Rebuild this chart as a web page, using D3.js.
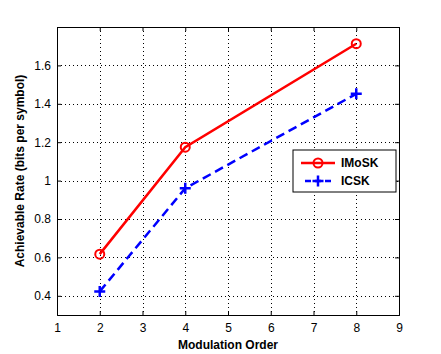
<!DOCTYPE html>
<html>
<head>
<meta charset="utf-8">
<script src="https://cdn.jsdelivr.net/npm/d3@7"></script>
<style>
body { margin: 0; background: #fff; }
text { font-family: "Liberation Sans", Arial, sans-serif; }
</style>
</head>
<body>
<div class="graph"></div>
<script>
// values
var orders = [2, 4, 8];
var imosk = [0.617, 1.174, 1.713];
var icsk = [0.423, 0.96, 1.452];
var x_ticks = [1, 2, 3, 4, 5, 6, 7, 8, 9];
var y_ticks = [0.4, 0.6, 0.8, 1, 1.2, 1.4, 1.6];

var width = 441, height = 354;
var margin = { top: 27, bottom: 39, left: 57, right: 42 };

var svg = d3.select('.graph').append('svg')
    .attr('width', width)
    .attr('height', height);

var xScale = d3.scaleLinear().domain([1, 9]).range([margin.left, width - margin.right]);
var yScale = d3.scaleLinear().domain([0.3, 1.8]).range([height - margin.bottom, margin.top]);

// grid
var grid = svg.append('g');
grid.selectAll('.gx').data(x_ticks.slice(1, -1)).enter().append('line')
    .attr('x1', d => Math.round(xScale(d)) + 0.5).attr('x2', d => Math.round(xScale(d)) + 0.5)
    .attr('y1', margin.top).attr('y2', height - margin.bottom)
    .attr('stroke', '#000').attr('stroke-width', 1).attr('stroke-dasharray', '1,3');
grid.selectAll('.gy').data(y_ticks).enter().append('line')
    .attr('y1', d => Math.round(yScale(d)) + 0.5).attr('y2', d => Math.round(yScale(d)) + 0.5)
    .attr('x1', margin.left).attr('x2', width - margin.right)
    .attr('stroke', '#000').attr('stroke-width', 1).attr('stroke-dasharray', '1,3');

// axes
var xAxis = d3.axisBottom(xScale).tickValues(x_ticks).tickSize(-4).tickPadding(8).tickFormat(d3.format('d'));
var yAxis = d3.axisLeft(yScale).tickValues(y_ticks).tickSize(-4).tickPadding(6).tickFormat(d => String(d));
var xTop = d3.axisTop(xScale).tickValues(x_ticks).tickSize(-4).tickFormat('');
var yRight = d3.axisRight(yScale).tickValues(y_ticks).tickSize(-4).tickFormat('');

function styleAxis(g) {
    g.select('.domain').attr('stroke', '#000');
    g.selectAll('.tick line').attr('stroke', '#000');
    g.selectAll('.tick text').attr('fill', '#000').style('font-size', '12px')
        .style('font-family', '"Liberation Sans", Arial, sans-serif');
}
svg.append('g').attr('transform', 'translate(0,' + (height - margin.bottom) + ')').call(xAxis).call(styleAxis);
svg.append('g').attr('transform', 'translate(' + margin.left + ',0)').call(yAxis).call(styleAxis);
svg.append('g').attr('transform', 'translate(0,' + margin.top + ')').call(xTop).call(styleAxis);
svg.append('g').attr('transform', 'translate(' + (width - margin.right) + ',0)').call(yRight).call(styleAxis);

// labels
svg.append('text')
    .attr('x', (margin.left + width - margin.right) / 2).attr('y', height - 5)
    .attr('text-anchor', 'middle')
    .style('font-size', '12px').style('font-weight', 'bold')
    .text('Modulation Order');
svg.append('text')
    .attr('transform', 'translate(24,' + ((margin.top + height - margin.bottom) / 2) + ') rotate(-90)')
    .attr('text-anchor', 'middle')
    .style('font-size', '12px').style('font-weight', 'bold')
    .text('Achievable Rate (bits per symbol)');

var line = d3.line().x(d => xScale(d[0])).y(d => yScale(d[1]));

// IMoSK
var s1 = orders.map((o, i) => [o, imosk[i]]);
svg.append('path').datum(s1).attr('d', line)
    .attr('fill', 'none').attr('stroke', '#ff0000').attr('stroke-width', 2.5);
svg.selectAll('.m1').data(s1).enter().append('circle')
    .attr('cx', d => xScale(d[0])).attr('cy', d => yScale(d[1])).attr('r', 4.5)
    .attr('fill', 'none').attr('stroke', '#ff0000').attr('stroke-width', 2);

// ICSK
var s2 = orders.map((o, i) => [o, icsk[i]]);
svg.append('path').datum(s2).attr('d', line)
    .attr('fill', 'none').attr('stroke', '#0000ff').attr('stroke-width', 2.5)
    .attr('stroke-dasharray', '9,5');
function plusPath(cx, cy, s) {
    return 'M' + (cx - s) + ',' + cy + 'H' + (cx + s) + 'M' + cx + ',' + (cy - s) + 'V' + (cy + s);
}
svg.selectAll('.m2').data(s2).enter().append('path')
    .attr('d', d => plusPath(xScale(d[0]), yScale(d[1]), 5.5))
    .attr('stroke', '#0000ff').attr('stroke-width', 2.5).attr('fill', 'none');

// legend
var lg = svg.append('g').attr('transform', 'translate(293,150)');
lg.append('rect').attr('width', 103).attr('height', 42)
    .attr('fill', '#fff').attr('stroke', '#000').attr('stroke-width', 1);
lg.append('line').attr('x1', 8).attr('x2', 42).attr('y1', 13).attr('y2', 13)
    .attr('stroke', '#ff0000').attr('stroke-width', 2.5);
lg.append('circle').attr('cx', 25).attr('cy', 13).attr('r', 4.5)
    .attr('fill', 'none').attr('stroke', '#ff0000').attr('stroke-width', 2);
lg.append('text').attr('x', 48).attr('y', 17).style('font-size', '12px').style('font-weight', 'bold').text('IMoSK');
lg.append('line').attr('x1', 12).attr('x2', 41).attr('y1', 31).attr('y2', 31)
    .attr('stroke', '#0000ff').attr('stroke-width', 2.5).attr('stroke-dasharray', '6,4');
lg.append('path').attr('d', plusPath(25, 31, 5.5))
    .attr('stroke', '#0000ff').attr('stroke-width', 2.5);
lg.append('text').attr('x', 48).attr('y', 35).style('font-size', '12px').style('font-weight', 'bold').text('ICSK');
</script>
</body>
</html>
